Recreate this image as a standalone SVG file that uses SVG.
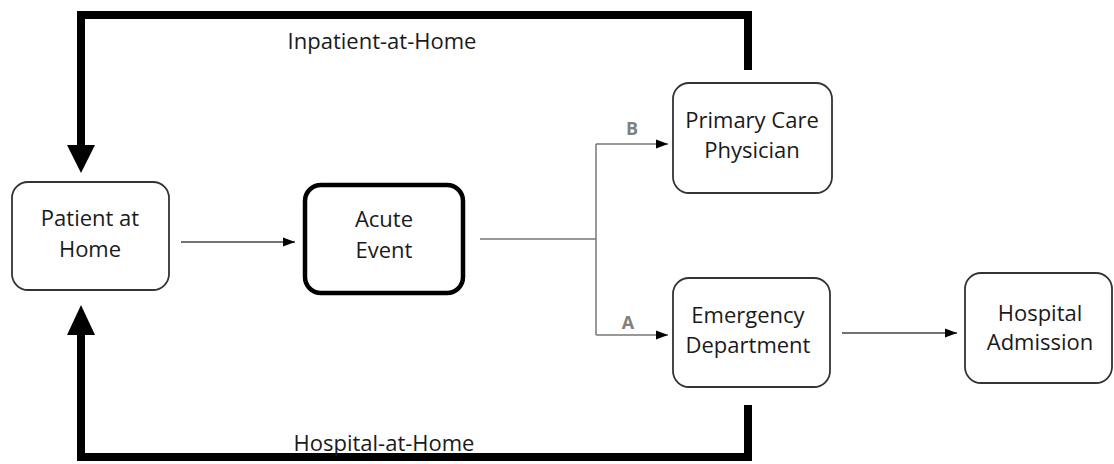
<svg xmlns="http://www.w3.org/2000/svg" width="1114" height="464" viewBox="0 0 1114 464">
<defs>
<style>
.box{fill:#fff;stroke:#333;stroke-width:1.8}
.thick{fill:#fff;stroke:#000;stroke-width:4.5}
.t{font-family:"Open Sans","Liberation Sans",sans-serif;font-size:22px;fill:#1a1a1a;text-anchor:middle}
.lbl{font-family:"Open Sans","Liberation Sans",sans-serif;font-size:18px;font-weight:bold;fill:#808080;text-anchor:middle}
.thin{fill:none;stroke:#444;stroke-width:1.5}
.gray{fill:none;stroke:#777;stroke-width:1.5}
.big{fill:none;stroke:#000;stroke-width:8;stroke-linejoin:miter}
</style>
<marker id="ah" viewBox="0 0 12 10" refX="12" refY="5" markerWidth="12" markerHeight="10" markerUnits="userSpaceOnUse" orient="auto">
<path d="M0,0.5 L12,5 L0,9.5 Z" fill="#000"/>
</marker>
</defs>
<rect width="1114" height="464" fill="#fff"/>
<g id="connectors">
<path class="big" d="M748,70 V15 H81 V146"/>
<polygon points="67,145 95,145 81,173" fill="#000"/>
<path class="big" d="M748,405 V457 H81 V334"/>
<polygon points="67,335 95,335 81,305" fill="#000"/>
<line class="thin" x1="181" y1="242" x2="295" y2="242" marker-end="url(#ah)"/>
<path class="gray" d="M480,239 H596"/>
<path class="gray" d="M596,144 V335"/>
<line class="gray" x1="596" y1="144" x2="668" y2="144" marker-end="url(#ah)"/>
<line class="gray" x1="596" y1="335" x2="668" y2="335" marker-end="url(#ah)"/>
<line class="thin" x1="842" y1="333" x2="957" y2="333" marker-end="url(#ah)"/>
<text class="t" x="382" y="49">Inpatient-at-Home</text>
<text class="t" x="384" y="451">Hospital-at-Home</text>
<text class="lbl" x="632" y="135">B</text>
<text class="lbl" x="628" y="329">A</text>
</g>
<g id="patient">
<rect class="box" x="12" y="182" width="157" height="108" rx="16"/>
<text class="t" x="90" y="226">Patient at</text>
<text class="t" x="90" y="257">Home</text>
</g>
<g id="acute">
<rect class="thick" x="305" y="185" width="158" height="108" rx="16"/>
<text class="t" x="384" y="227">Acute</text>
<text class="t" x="384" y="258">Event</text>
</g>
<g id="pcp">
<rect class="box" x="673" y="83" width="159" height="110" rx="16"/>
<text class="t" x="752" y="128">Primary Care</text>
<text class="t" x="752" y="158">Physician</text>
</g>
<g id="ed">
<rect class="box" x="673" y="278" width="157" height="109" rx="16"/>
<text class="t" x="748" y="323">Emergency</text>
<text class="t" x="748" y="353">Department</text>
</g>
<g id="admission">
<rect class="box" x="965" y="273" width="147" height="110" rx="16"/>
<text class="t" x="1040" y="321">Hospital</text>
<text class="t" x="1040" y="350">Admission</text>
</g>
</svg>
